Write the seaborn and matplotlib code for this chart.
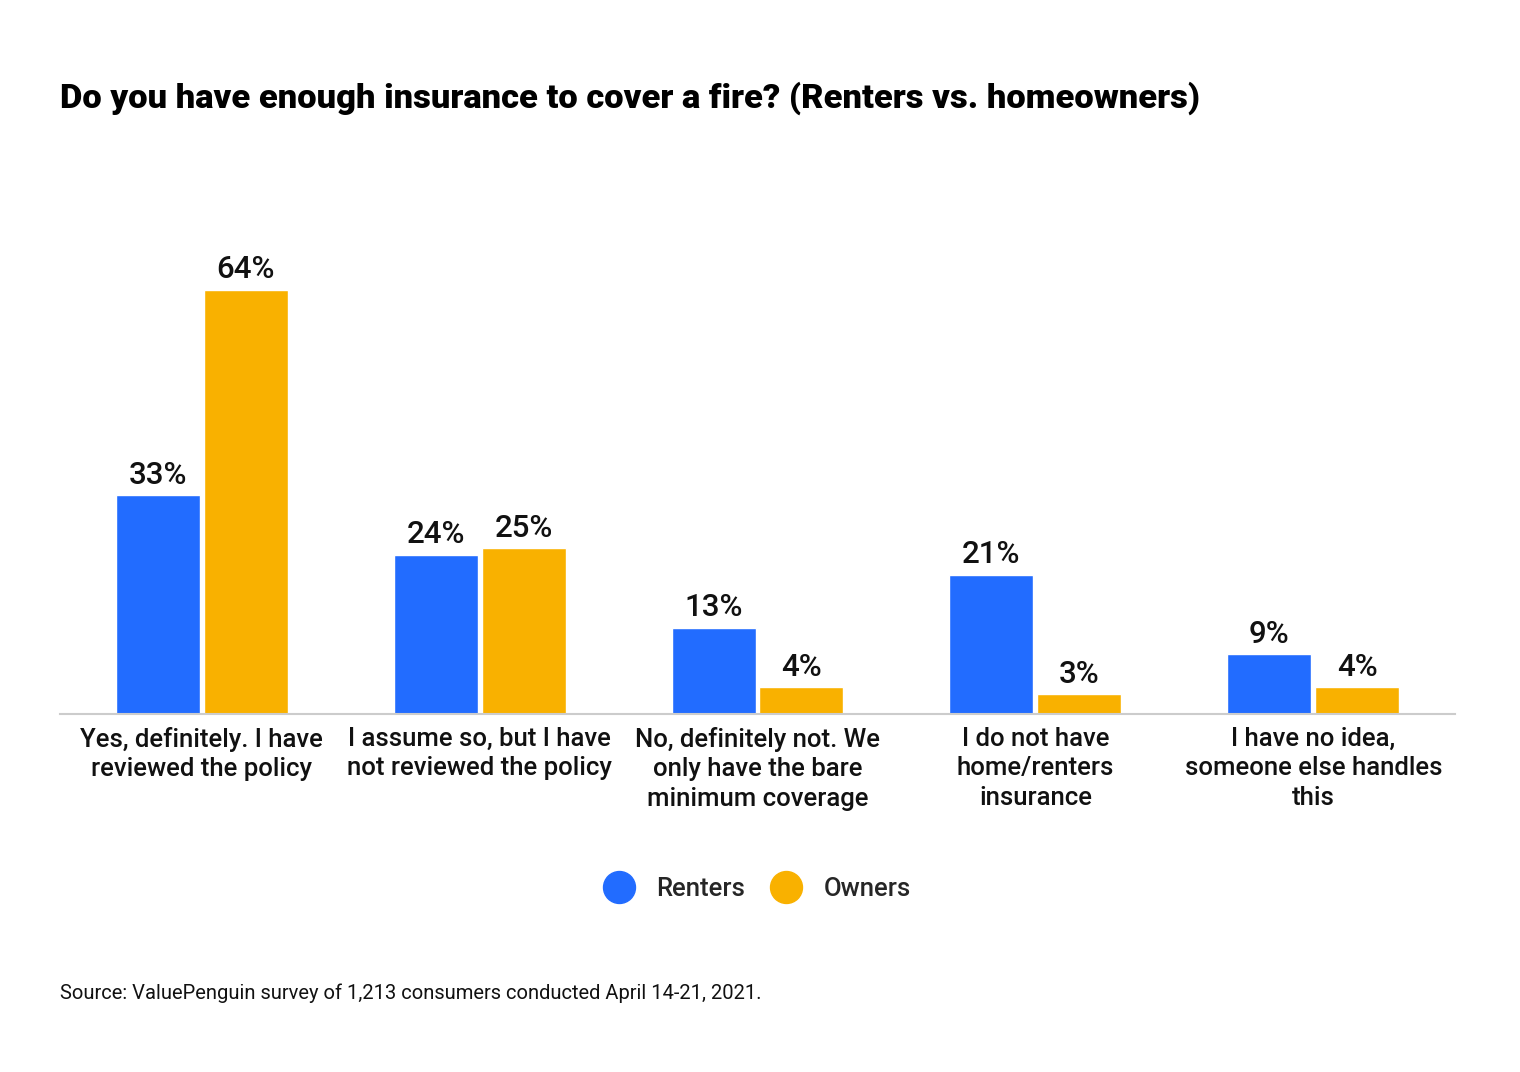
import numpy as np
import pandas as pd
import matplotlib
matplotlib.use('Agg')
import matplotlib.pyplot as plt
from matplotlib.lines import Line2D
import seaborn as sns

categories = [
    'Yes, definitely. I have\nreviewed the policy',
    'I assume so, but I have\nnot reviewed the policy',
    'No, definitely not. We\nonly have the bare\nminimum coverage',
    'I do not have\nhome/renters\ninsurance',
    'I have no idea,\nsomeone else handles\nthis',
]
renters = [33, 24, 13, 21, 9]
owners = [64, 25, 4, 3, 4]
groups = ['Renters', 'Owners']
colors = ['#226CFF', '#F9B100']

df = pd.DataFrame({
    'category': categories * 2,
    'group': [groups[0]] * len(categories) + [groups[1]] * len(categories),
    'value': renters + owners,
})

sns.set_theme(style='white')
plt.rcParams['font.family'] = ['Roboto', 'DejaVu Sans']

fig = plt.figure(figsize=(15.2, 10.72), dpi=100)
ax = fig.add_axes([60 / 1520, 1 - 714 / 1072, 1395 / 1520, 464 / 1072])

sns.barplot(data=df, x='category', y='value', hue='group', palette=colors,
            width=0.633, gap=0.045, ax=ax, legend=False, saturation=1)

for cont in ax.containers:
    ax.bar_label(cont, labels=[f'{int(v)}%' for v in cont.datavalues],
                 padding=4, fontsize=22.5, fontweight='medium', color='#111111')

ax.set_xlim(-0.51, 4.51)
ax.set_ylim(0, 70)
ax.set_xlabel('')
ax.set_ylabel('')
ax.set_yticks([])
ax.tick_params(axis='x', length=0, pad=9, labelcolor='#111111')
for lab in ax.get_xticklabels():
    lab.set_fontsize(18.5)
    lab.set_fontweight('medium')
    lab.set_linespacing(1.3)
for s in ['top', 'left', 'right']:
    ax.spines[s].set_visible(False)
ax.spines['bottom'].set_color('#cccccc')
ax.spines['bottom'].set_linewidth(1.5)

fig.text(60 / 1520, 1 - 98 / 1072, 'Do you have enough insurance to cover a fire? (Renters vs. homeowners)',
         fontsize=24.8, fontweight='black', va='center', ha='left', color='#000000')

handles = [Line2D([], [], marker='o', linestyle='', markersize=23, color=c) for c in colors]
fig.legend(handles, groups, loc='center', bbox_to_anchor=(752 / 1520, 1 - 889 / 1072),
           ncol=2, frameon=False, handletextpad=0.45, columnspacing=0.6,
           prop={'size': 18.5, 'weight': 'medium'})

fig.text(60 / 1520, 1 - 993 / 1072,
         'Source: ValuePenguin survey of 1,213 consumers conducted April 14-21, 2021.',
         fontsize=14.5, va='center', ha='left', color='#111111')

fig.savefig('out.png', dpi=100, facecolor='white')
